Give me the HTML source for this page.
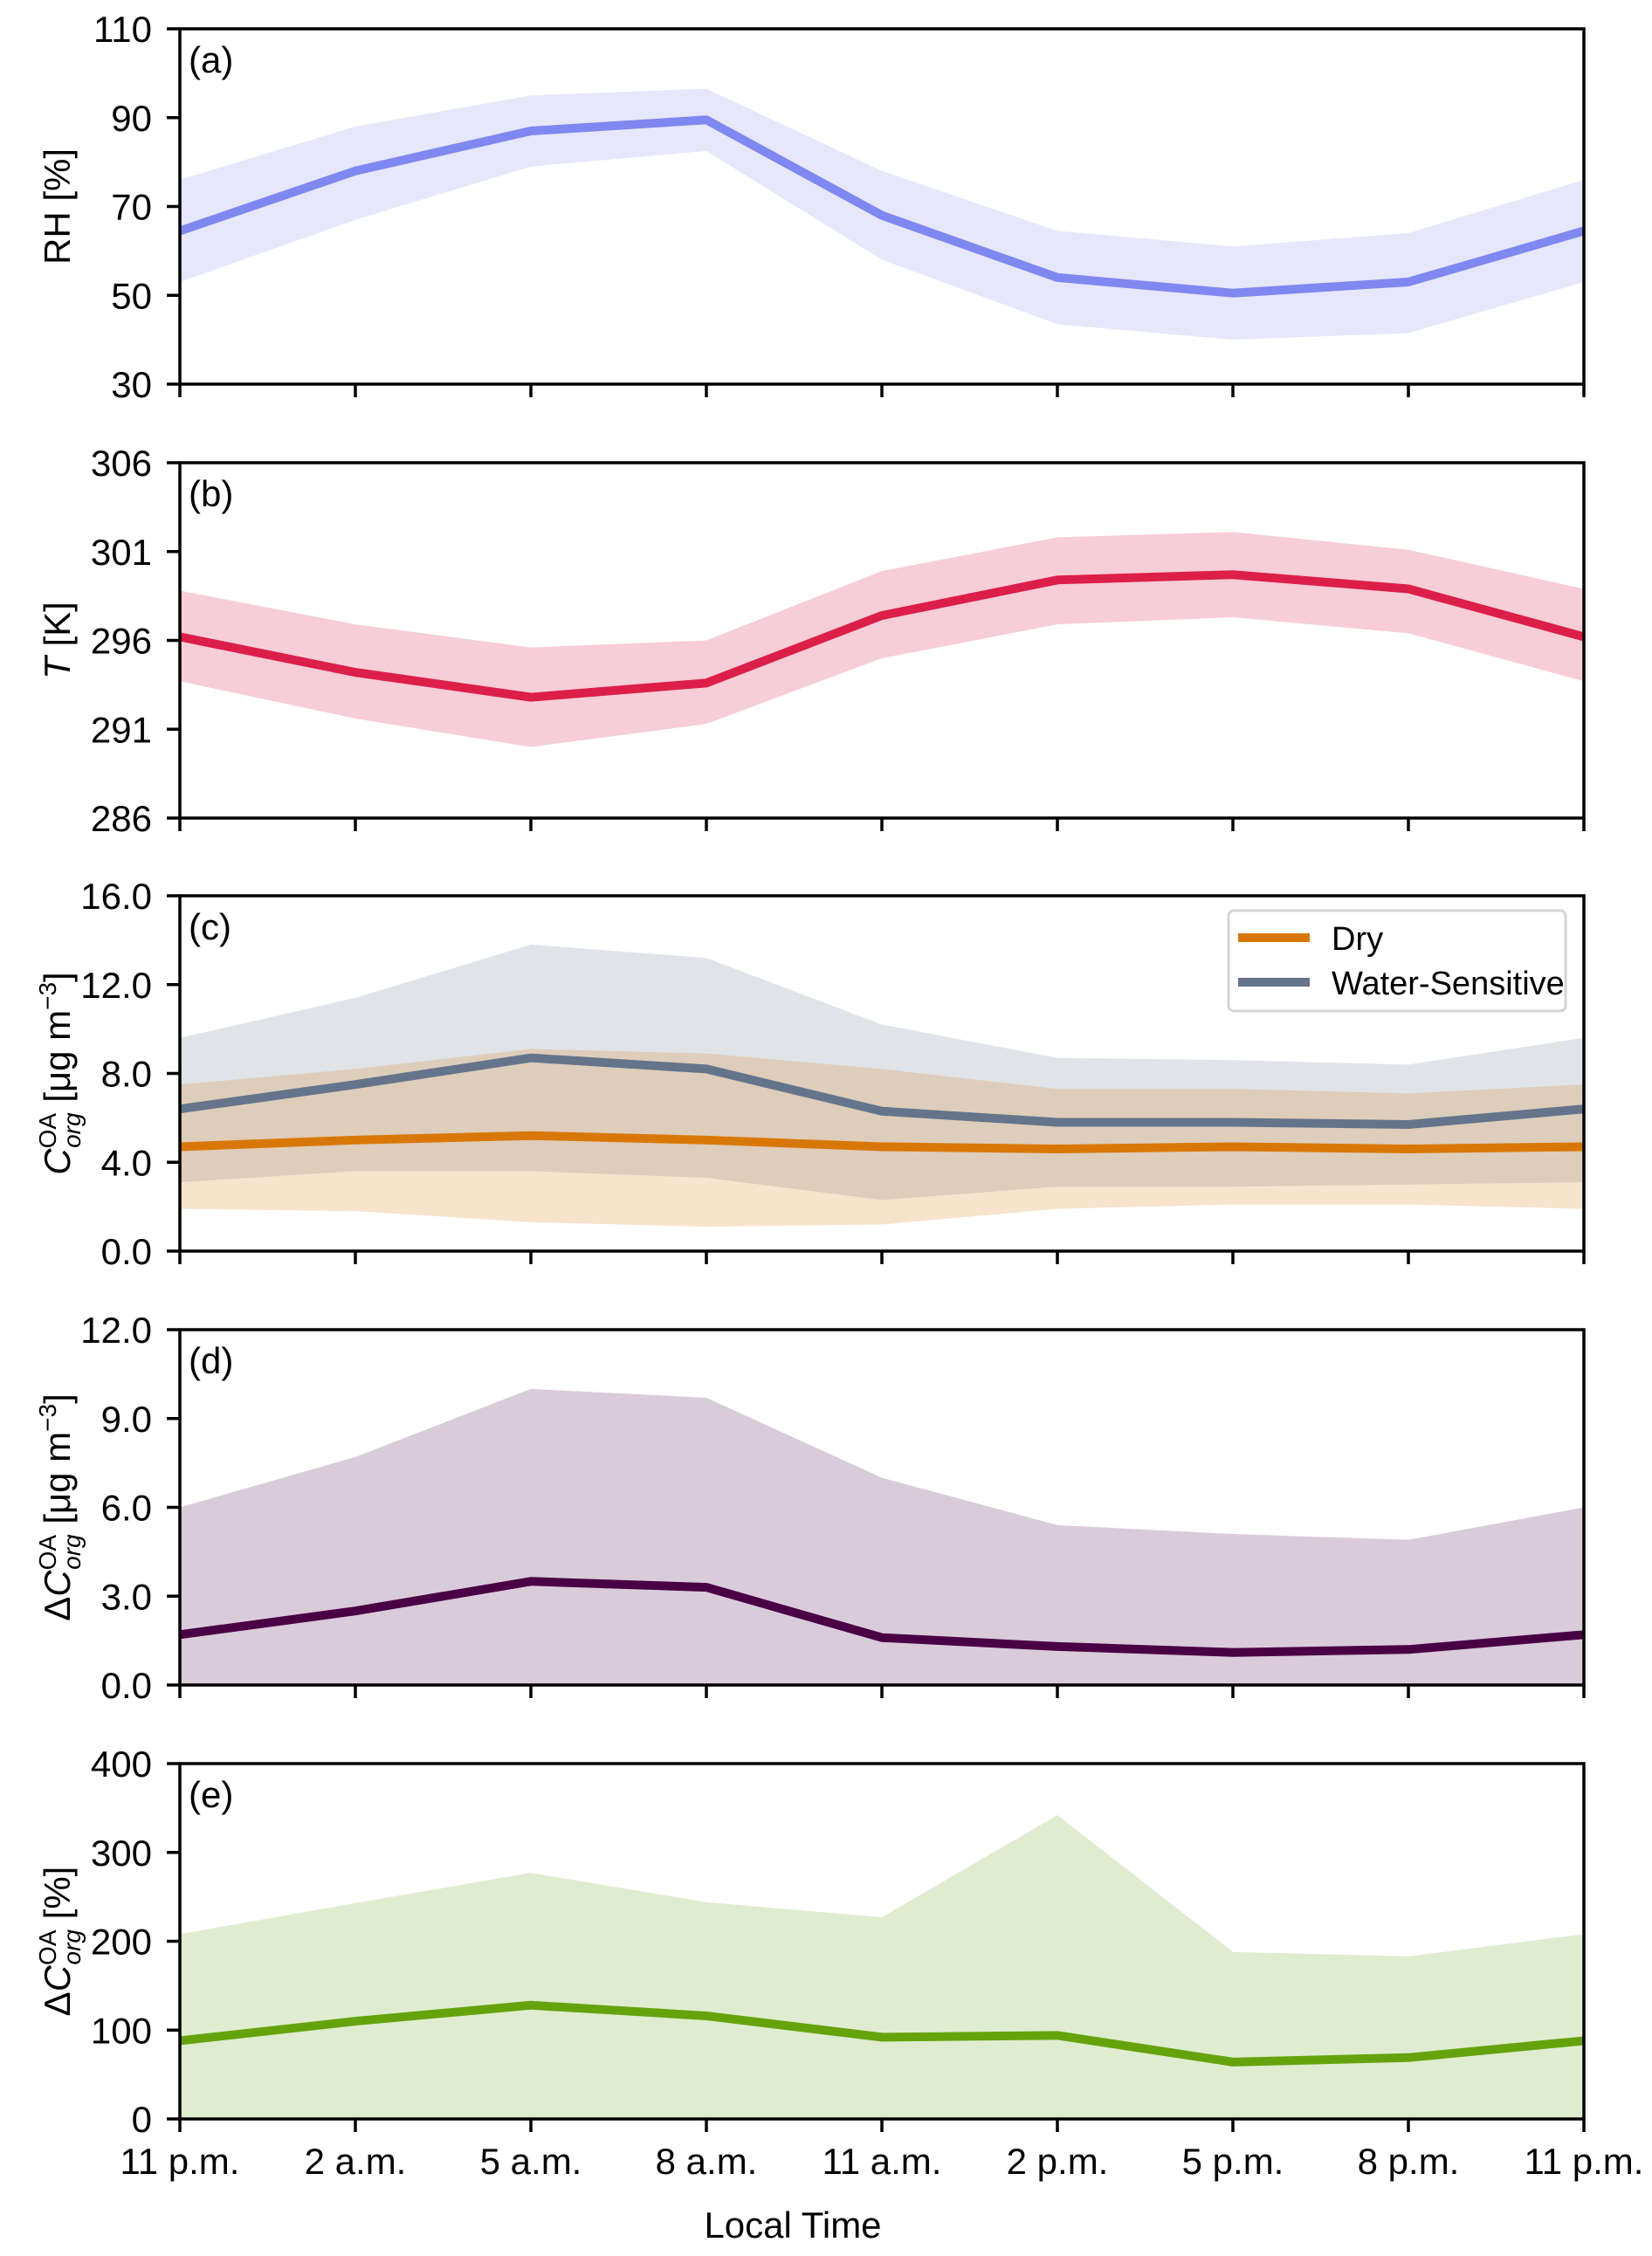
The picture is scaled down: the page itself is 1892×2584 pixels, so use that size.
<!DOCTYPE html>
<html><head><meta charset="utf-8">
<style>
html,body{margin:0;padding:0;background:#fff;}
svg text{font-family:"Liberation Sans",Arial,sans-serif;fill:#000;}
</style></head>
<body>
<svg id="chart" width="1892" height="2579" viewBox="0 0 1892 2579" xmlns="http://www.w3.org/2000/svg"></svg>
<script>
const categories = ["11 p.m.","2 a.m.","5 a.m.","8 a.m.","11 a.m.","2 p.m.","5 p.m.","8 p.m.","11 p.m."];
const rhMean = [64.5,78,87,89.5,68,54,50.5,53,64.5];
const rhUp = [76,88,95,96.5,78,64.5,61,64,76];
const rhLo = [53,67,79,82.5,58,43.5,40,41.5,53];
const tMean = [296.2,294.2,292.8,293.6,297.4,299.4,299.7,298.9,296.2];
const tUp = [298.8,296.9,295.6,296.0,299.9,301.8,302.1,301.1,298.9];
const tLo = [293.7,291.6,290.0,291.3,295.0,296.9,297.3,296.4,293.7];
const wsMean = [6.4,7.5,8.7,8.2,6.3,5.8,5.8,5.7,6.4];
const wsUp = [9.6,11.4,13.8,13.2,10.2,8.7,8.6,8.4,9.6];
const wsLo = [3.1,3.6,3.6,3.3,2.3,2.9,2.9,3.0,3.1];
const dryMean = [4.7,5.0,5.2,5.0,4.7,4.6,4.7,4.6,4.7];
const dryUp = [7.5,8.2,9.1,8.9,8.2,7.3,7.3,7.1,7.5];
const dryLo = [1.9,1.8,1.3,1.1,1.2,1.9,2.1,2.1,1.9];
const dMean = [1.7,2.5,3.5,3.3,1.6,1.3,1.1,1.2,1.7];
const dUp = [6.0,7.7,10.0,9.7,7.0,5.4,5.1,4.9,6.0];
const dLo = [-1,-1,-1,-1,-1,-1,-1,-1,-1];
const eMean = [88,110,128,116,92,94,64,69,88];
const eUp = [208,243,277,244,227,342,188,183,208];
const eLo = [-10,-10,-10,-10,-10,-10,-10,-10,-10];
const ticksA = [30,50,70,90,110];
const ticksB = [286,291,296,301,306];
const ticksC = [0,4,8,12,16];
const ticksD = [0,3,6,9,12];
const ticksE = [0,100,200,300,400];

const NS = "http://www.w3.org/2000/svg";
const svg = document.getElementById('chart');
const X0 = 206, X1 = 1814;
function xs(i){ return X0 + (X1 - X0) * i / (categories.length - 1); }
function mk(tag, attrs, parent){
  const e = document.createElementNS(NS, tag);
  for (const k in attrs) e.setAttribute(k, attrs[k]);
  (parent || svg).appendChild(e);
  return e;
}
let clipId = 0;
function panel(top, ymin, ymax, ticks, fmt, letter, name){
  const H = 407, bottom = top + H;
  const ys = v => bottom - (v - ymin) / (ymax - ymin) * H;
  const g = mk('g', {});
  
  
  const cid = 'clip' + (clipId++);
  const cp = mk('clipPath', {id: cid}, g);
  mk('rect', {x: X0, y: top, width: X1 - X0, height: H}, cp);
  const plot = mk('g', {'clip-path': 'url(#' + cid + ')'}, g);
  return {g, plot, ys, top, bottom, ticks, fmt, letter};
}
function band(p, up, lo, color, name){
  let d = '';
  up.forEach((v,i)=>{ d += (i ? 'L' : 'M') + xs(i) + ',' + p.ys(v); });
  for (let i = lo.length - 1; i >= 0; i--) d += 'L' + xs(i) + ',' + p.ys(lo[i]);
  const e = mk('path', {d: d + 'Z', fill: color, stroke: 'none'}, p.plot);
  
  
}
function line(p, vals, color, name){
  const pts = vals.map((v,i)=> xs(i) + ',' + p.ys(v)).join(' ');
  const e = mk('polyline', {points: pts, fill: 'none', stroke: color, 'stroke-width': 10, 'stroke-linejoin': 'round'}, p.plot);
  
  
}
function axes(p, showX){
  const g = p.g;
  mk('rect', {x: X0, y: p.top, width: X1 - X0, height: p.bottom - p.top, fill: 'none', stroke: '#000', 'stroke-width': 3.5}, g);
  p.ticks.forEach(t => {
    const y = p.ys(t);
    mk('line', {x1: X0 - 15, x2: X0, y1: y, y2: y, stroke: '#000', 'stroke-width': 3.5}, g);
    const tx = mk('text', {x: 174, y: y + 15, 'font-size': 42, 'text-anchor': 'end'}, g);
    tx.textContent = p.fmt(t);
    
    
  });
  categories.forEach((c,i) => {
    mk('line', {x1: xs(i), x2: xs(i), y1: p.bottom, y2: p.bottom + 15, stroke: '#000', 'stroke-width': 3.5}, g);
    if (showX){
      const tx = mk('text', {x: xs(i), y: 2490, 'font-size': 42, 'text-anchor': 'middle'}, g);
      tx.textContent = c;
      
      
    }
  });
  const lt = mk('text', {x: 216, y: p.top + 50, 'font-size': 42}, g);
  lt.textContent = '(' + p.letter + ')';
  
  
}
function ylabel(p, html, name){
  const cy = (p.top + p.bottom) / 2;
  const t = mk('text', {x: 0, y: 0, 'font-size': 42, 'text-anchor': 'middle', transform: 'translate(80,' + cy + ') rotate(-90)'}, p.g);
  t.innerHTML = html;
  
  
}
const f0 = v => String(v), f1 = v => v.toFixed(1);
const COA = '<tspan font-style="italic">C</tspan><tspan font-size="28" dy="-16">OA</tspan><tspan font-size="28" font-style="italic" dx="-40" dy="28">org</tspan><tspan dy="-12"> [μg m</tspan><tspan font-size="28" dy="-16">−3</tspan><tspan dy="16">]</tspan>';

const pa = panel(33, 30, 110, ticksA, f0, 'a', 'rh');
band(pa, rhUp, rhLo, '#e6e7fa', 'rh-band');
line(pa, rhMean, '#7f87f0', 'rh-line');
axes(pa, false);
ylabel(pa, 'RH [%]', 'y-axis-title-rh');

const pb = panel(530, 286, 306, ticksB, f0, 'b', 'temperature');
band(pb, tUp, tLo, '#f7cdd7', 'temperature-band');
line(pb, tMean, '#dc1f48', 'temperature-line');
axes(pb, false);
ylabel(pb, '<tspan font-style="italic">T</tspan> [K]', 'y-axis-title-temperature');

const pc = panel(1026, 0, 16, ticksC, f1, 'c', 'coa');
band(pc, wsUp, wsLo, 'rgba(100,116,139,0.2)', 'water-sensitive-band');
band(pc, dryUp, dryLo, 'rgba(217,119,6,0.2)', 'dry-band');
line(pc, wsMean, '#64748b', 'water-sensitive-line');
line(pc, dryMean, '#d97706', 'dry-line');
axes(pc, false);
ylabel(pc, COA, 'y-axis-title-coa');

const pd = panel(1523, 0, 12, ticksD, f1, 'd', 'delta-coa');
band(pd, dUp, dLo, '#d9cbda', 'delta-coa-band');
line(pd, dMean, '#4a0045', 'delta-coa-line');
axes(pd, false);
ylabel(pd, 'Δ' + COA, 'y-axis-title-delta-coa');

const pe = panel(2020, 0, 400, ticksE, f0, 'e', 'delta-coa-percent');
band(pe, eUp, eLo, '#e0ecd0', 'delta-coa-percent-band');
line(pe, eMean, '#65a30d', 'delta-coa-percent-line');
axes(pe, true);
ylabel(pe, 'Δ<tspan font-style="italic">C</tspan><tspan font-size="28" dy="-16">OA</tspan><tspan font-size="28" font-style="italic" dx="-40" dy="28">org</tspan><tspan dy="-12"> [%]</tspan>', 'y-axis-title-delta-coa-percent');

const xl = mk('text', {x: 908, y: 2563, 'font-size': 42, 'text-anchor': 'middle'});
xl.textContent = 'Local Time';



// legend
const lg = mk('g', {});


mk('rect', {x: 1407, y: 1043, width: 386, height: 115, rx: 6, fill: '#fff', stroke: '#d4d4d4', 'stroke-width': 3}, lg);
mk('line', {x1: 1418, x2: 1500, y1: 1074, y2: 1074, stroke: '#d97706', 'stroke-width': 10}, lg);
mk('line', {x1: 1418, x2: 1500, y1: 1125, y2: 1125, stroke: '#64748b', 'stroke-width': 10}, lg);
const l1 = mk('text', {x: 1525, y: 1088, 'font-size': 38}, lg);
l1.textContent = 'Dry';


const l2 = mk('text', {x: 1525, y: 1139, 'font-size': 38}, lg);
l2.textContent = 'Water-Sensitive';


</script>
</body></html>
